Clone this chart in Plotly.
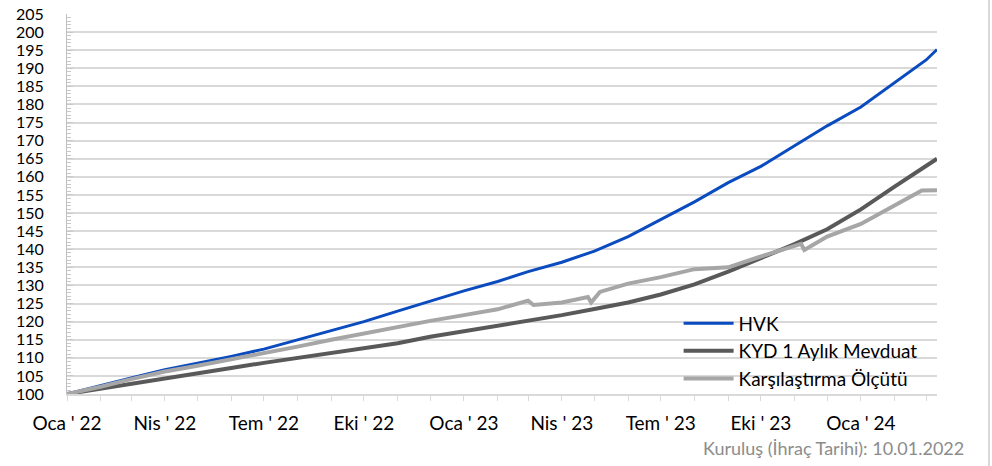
import plotly.graph_objects as go

# ---- data ----
dates = ["2022-01-10", "2022-02-10", "2022-03-10", "2022-04-10", "2022-05-10", "2022-06-10",
         "2022-07-10", "2022-08-10", "2022-09-10", "2022-10-10", "2022-11-10", "2022-12-10",
         "2023-01-10", "2023-02-10", "2023-03-10", "2023-04-10", "2023-05-10", "2023-06-10",
         "2023-07-10", "2023-08-10", "2023-09-10", "2023-10-10", "2023-11-10", "2023-12-10",
         "2024-01-10", "2024-02-10", "2024-03-10", "2024-03-20"]

hvk = [100, 102.2, 104.4, 106.7, 108.5, 110.4, 112.4, 115.0, 117.5, 120.0, 122.9, 125.7,
       128.5, 131.1, 133.8, 136.4, 139.5, 143.5, 148.2, 153.1, 158.4, 162.9, 168.6, 174.1,
       179.3, 186.1, 192.3, 195.2]

kyd = [100, 101.5, 103.0, 104.5, 105.8, 107.2, 108.6, 110.0, 111.3, 112.5, 114.0, 115.8,
       117.3, 118.7, 120.2, 121.8, 123.5, 125.3, 127.5, 130.3, 133.8, 137.5, 141.4, 145.5,
       151.0, 157.3, 163.2, 165.0]

bench_dates = ["2022-01-10", "2022-02-10", "2022-03-10", "2022-04-10", "2022-05-10", "2022-06-10",
               "2022-07-10", "2022-08-10", "2022-09-10", "2022-10-10", "2022-11-10", "2022-12-10",
               "2023-01-10", "2023-02-10", "2023-03-10", "2023-03-15", "2023-04-10", "2023-05-04",
               "2023-05-07", "2023-05-15", "2023-06-10", "2023-07-10", "2023-08-10", "2023-09-10",
               "2023-10-10", "2023-11-10", "2023-11-16", "2023-11-19", "2023-12-10", "2024-01-10",
               "2024-02-10", "2024-03-06", "2024-03-20"]
bench = [100, 102.0, 104.1, 106.2, 107.8, 109.5, 111.2, 113.1, 115.0, 116.8, 118.5, 120.2,
         121.8, 123.4, 125.8, 124.6, 125.3, 126.8, 125.3, 128.2, 130.5, 132.3, 134.5, 135.0,
         138.0, 141.0, 141.5, 139.8, 143.5, 147.0, 152.0, 156.2, 156.3]

series_names = ["HVK", "KYD 1 Aylık Mevduat", "Karşılaştırma Ölçütü"]
tick_dates = ["2022-01-10", "2022-04-10", "2022-07-10", "2022-10-10", "2023-01-10",
              "2023-04-10", "2023-07-10", "2023-10-10", "2024-01-10"]
tick_labels = ["Oca ' 22", "Nis ' 22", "Tem ' 22", "Eki ' 22", "Oca ' 23",
               "Nis ' 23", "Tem ' 23", "Eki ' 23", "Oca ' 24"]
y_ticks = list(range(100, 206, 5))
note = "Kuruluş (İhraç Tarihi): 10.01.2022"

FONT = "Lato"

fig = go.Figure()
fig.add_trace(go.Scatter(x=dates, y=hvk, name=series_names[0], mode="lines",
                         line=dict(color="#0a4bbf", width=3)))
fig.add_trace(go.Scatter(x=dates, y=kyd, name=series_names[1], mode="lines",
                         line=dict(color="#595959", width=4)))
fig.add_trace(go.Scatter(x=bench_dates, y=bench, name=series_names[2], mode="lines",
                         line=dict(color="#a6a6a6", width=4)))

fig.update_layout(
    width=992, height=466,
    margin=dict(l=67, r=55, t=14, b=72, autoexpand=False),
    paper_bgcolor="white", plot_bgcolor="white",
    font=dict(family=FONT, size=19, color="black"),
    showlegend=True,
    legend=dict(x=0.703, y=0.236, xanchor="left", yanchor="top",
                bgcolor="rgba(0,0,0,0)", font=dict(size=19, color="black"),
                tracegroupgap=0, itemwidth=50),
)

fig.update_xaxes(
    type="date", automargin=False,
    range=["2022-01-10", "2024-03-20"],
    tickmode="array", tickvals=tick_dates, ticktext=tick_labels,
    ticks="outside", ticklen=5, tickcolor="#d9d9d9", tickwidth=1,
    showgrid=True, gridcolor="white", gridwidth=3,
    showline=True, linecolor="#d9d9d9", linewidth=2,
    tickfont=dict(size=19, color="black"),
    ticklabelstandoff=6,
    minor=dict(dtick="M1", tick0="2022-01-10", ticks="outside", ticklen=5,
               tickcolor="#d9d9d9", showgrid=False),
    zeroline=False,
)

fig.update_yaxes(
    range=[100, 205], automargin=False,
    tickmode="array", tickvals=y_ticks, ticktext=[str(v) for v in y_ticks],
    ticks="inside", ticklen=6, tickcolor="#c8c8c8",
    showgrid=True, gridcolor="#d9d9d9", gridwidth=2,
    showline=True, linecolor="#bfbfbf", linewidth=1,
    tickfont=dict(size=16, color="black"),
    ticklabelstandoff=19,
    minor=dict(dtick=1, tick0=100, ticks="inside", ticklen=4, tickcolor="#c8c8c8", showgrid=False),
    zeroline=False,
)

fig.add_annotation(text=note, xref="paper", yref="paper",
                   x=(966 - 67) / 870, y=-(448 - 394) / 380, xanchor="right", yanchor="middle",
                   showarrow=False, font=dict(size=18, color="#8c8c8c", family=FONT))

fig.add_shape(type="line", xref="paper", yref="paper",
              x0=(989 - 67) / 870, x1=(989 - 67) / 870, y0=-(466 - 394) / 380, y1=394 / 380,
              line=dict(color="#d9d9d9", width=2))

fig.write_html("out.html", config={"displayModeBar": False},
               post_script="document.body.style.margin='0';document.body.style.padding='0';")
